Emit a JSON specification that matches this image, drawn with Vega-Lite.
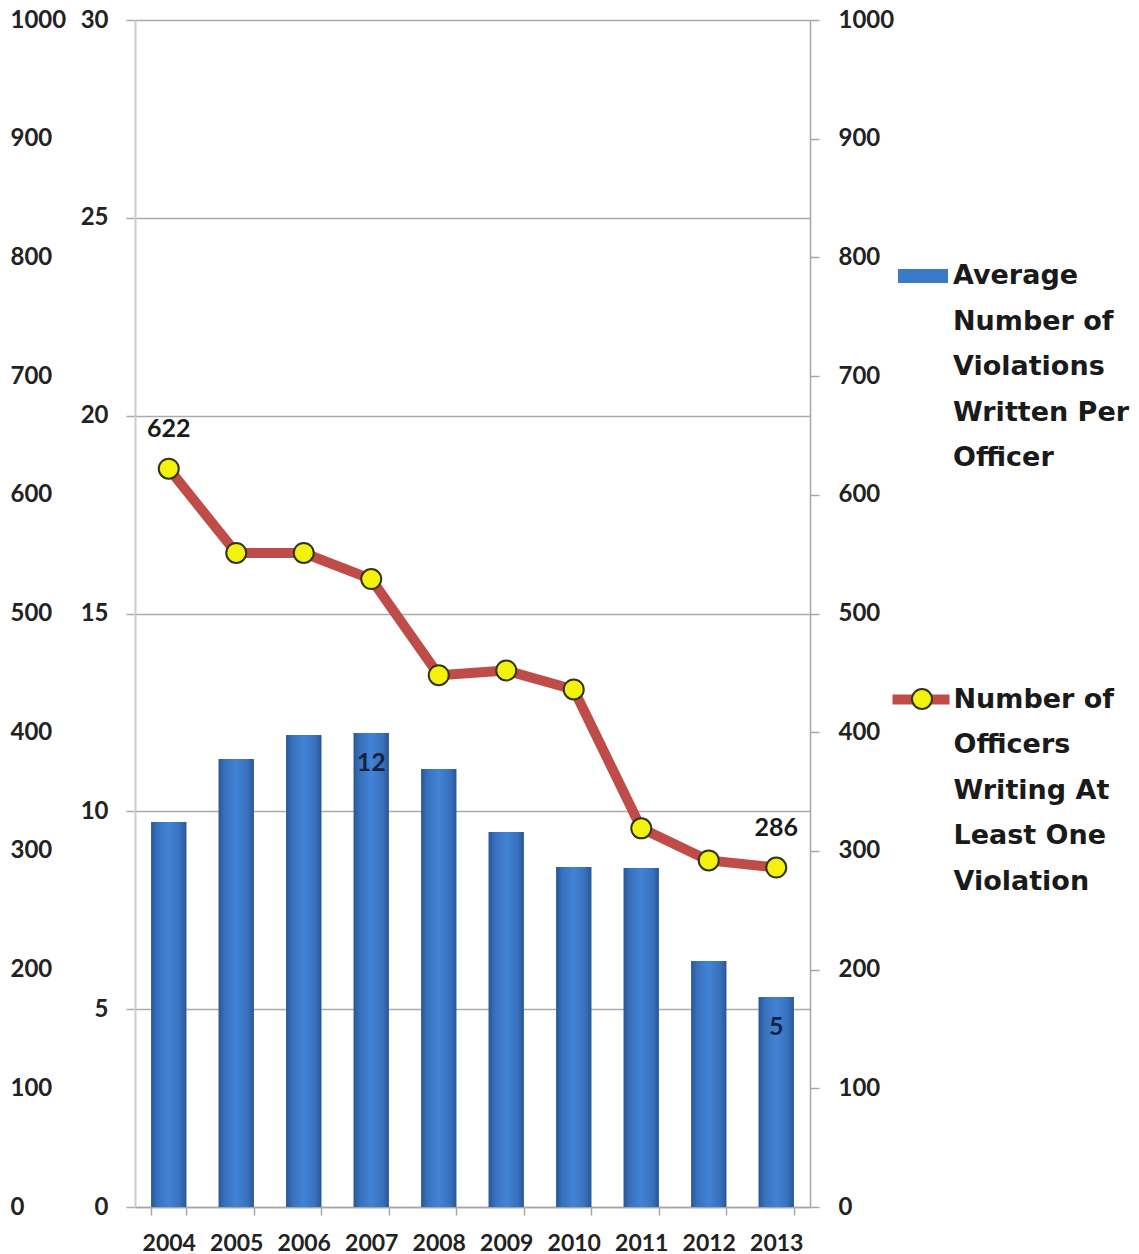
{
  "$schema": "https://vega.github.io/schema/vega-lite/v6.json",
  "width": 675,
  "height": 1187,
  "autosize": {"type": "none"},
  "padding": {"left": 135, "top": 20, "right": 329, "bottom": 47},
  "background": "white",
  "data": {
    "values": [
      {"year": "2004", "avg": 9.73, "officers": 622, "barLabel": "", "lineLabel": "622"},
      {"year": "2005", "avg": 11.32, "officers": 551, "barLabel": "", "lineLabel": ""},
      {"year": "2006", "avg": 11.93, "officers": 551, "barLabel": "", "lineLabel": ""},
      {"year": "2007", "avg": 11.98, "officers": 529, "barLabel": "12", "lineLabel": ""},
      {"year": "2008", "avg": 11.07, "officers": 448, "barLabel": "", "lineLabel": ""},
      {"year": "2009", "avg": 9.48, "officers": 452, "barLabel": "", "lineLabel": ""},
      {"year": "2010", "avg": 8.59, "officers": 436, "barLabel": "", "lineLabel": ""},
      {"year": "2011", "avg": 8.57, "officers": 319, "barLabel": "", "lineLabel": ""},
      {"year": "2012", "avg": 6.22, "officers": 292, "barLabel": "", "lineLabel": ""},
      {"year": "2013", "avg": 5.31, "officers": 286, "barLabel": "5", "lineLabel": "286"}
    ]
  },
  "resolve": {
    "scale": {"y": "independent", "fill": "independent", "color": "independent", "stroke": "independent"},
    "axis": {"y": "independent"},
    "legend": {"fill": "independent", "color": "independent", "stroke": "independent"}
  },
  "layer": [
    {
      "layer": [
        {
          "mark": {"type": "bar"},
          "encoding": {
            "x": {"field": "year", "type": "ordinal", "scale": {"paddingInner": 0.48, "paddingOuter": 0.24},
              "axis": {"title": null, "labelAngle": 0, "tickBand": "extent", "tickSize": 8, "domainColor": "#a6a6a6", "domainWidth": 1.5, "tickColor": "#a6a6a6", "tickWidth": 1.5, "labelFont": "Lato", "labelFontWeight": "bold", "labelFontSize": 23, "labelColor": "#222222", "labelPadding": 17, "labelOverlap": false}},
            "y": {"field": "avg", "type": "quantitative", "scale": {"domain": [0, 30], "nice": false, "zero": true},
              "axis": {"orient": "left", "title": null, "values": [0, 5, 10, 15, 20, 25, 30], "grid": true, "gridColor": "#aaaaaa", "gridWidth": 1.5, "domainColor": "#cccccc", "domainWidth": 2, "tickColor": "#aaaaaa", "tickWidth": 1.5, "tickSize": 9, "labelPadding": 18, "labelFont": "Lato", "labelFontWeight": "bold", "labelFontSize": 24, "labelColor": "#222222", "labelOverlap": false}},
            "color": {"datum": "Average Number of Violations Written Per Officer", "type": "nominal", "scale": {"range": ["#3a78c8"]},
              "legend": {"orient": "none", "legendX": 763, "legendY": 231, "title": null, "padding": 0, "symbolType": "M-1,-0.28H1V0.28H-1Z", "symbolSize": 2500, "symbolStrokeWidth": 0, "labelFont": "DejaVu Sans", "labelFontWeight": "bold", "labelFontSize": 27, "labelColor": "#1a1a1a", "labelOffset": 5, "labelLimit": 400, "labelBaseline": "middle", "labelExpr": "['Average','Number of','Violations','Written Per','Officer']"}}
          }
        },
        {
          "mark": {"type": "bar", "fill": {"gradient": "linear", "x1": 0, "y1": 0, "x2": 1, "y2": 0, "stops": [{"offset": 0, "color": "#2a5797"}, {"offset": 0.18, "color": "#3871bd"}, {"offset": 0.5, "color": "#4283d6"}, {"offset": 0.82, "color": "#3871bd"}, {"offset": 1, "color": "#2a5797"}]}},
          "encoding": {
            "x": {"field": "year", "type": "ordinal", "scale": {"paddingInner": 0.48, "paddingOuter": 0.24},
              "axis": {"title": null, "labelAngle": 0, "tickBand": "extent", "tickSize": 8, "domainColor": "#a6a6a6", "domainWidth": 1.5, "tickColor": "#a6a6a6", "tickWidth": 1.5, "labelFont": "Lato", "labelFontWeight": "bold", "labelFontSize": 23, "labelColor": "#222222", "labelPadding": 17, "labelOverlap": false}},
            "y": {"field": "avg", "type": "quantitative"}
          }
        },
        {
          "mark": {"type": "text", "font": "Lato", "fontWeight": "bold", "fontSize": 25, "color": "#14233f", "baseline": "middle", "dy": 30},
          "encoding": {
            "x": {"field": "year", "type": "ordinal", "scale": {"paddingInner": 0.48, "paddingOuter": 0.24},
              "axis": {"title": null, "labelAngle": 0, "tickBand": "extent", "tickSize": 8, "domainColor": "#a6a6a6", "domainWidth": 1.5, "tickColor": "#a6a6a6", "tickWidth": 1.5, "labelFont": "Lato", "labelFontWeight": "bold", "labelFontSize": 23, "labelColor": "#222222", "labelPadding": 17, "labelOverlap": false}},
            "y": {"field": "avg", "type": "quantitative"},
            "text": {"field": "barLabel"}
          }
        }
      ]
    },
    {
      "layer": [
        {
          "mark": {"type": "line", "strokeWidth": 10, "strokeJoin": "round", "strokeCap": "round"},
          "encoding": {
            "x": {"field": "year", "type": "ordinal", "scale": {"paddingInner": 0.48, "paddingOuter": 0.24},
              "axis": {"title": null, "labelAngle": 0, "tickBand": "extent", "tickSize": 8, "domainColor": "#a6a6a6", "domainWidth": 1.5, "tickColor": "#a6a6a6", "tickWidth": 1.5, "labelFont": "Lato", "labelFontWeight": "bold", "labelFontSize": 23, "labelColor": "#222222", "labelPadding": 17, "labelOverlap": false}},
            "y": {"field": "officers", "type": "quantitative", "scale": {"domain": [0, 1000], "nice": false},
              "axis": {"orient": "right", "title": null, "format": "d", "values": [0, 100, 200, 300, 400, 500, 600, 700, 800, 900, 1000], "grid": false, "domainColor": "#a6a6a6", "domainWidth": 1.5, "tickColor": "#a6a6a6", "tickWidth": 1.5, "tickSize": 9, "labelPadding": 19, "labelFont": "Lato", "labelFontWeight": "bold", "labelFontSize": 24, "labelColor": "#222222", "labelOverlap": false}},
            "stroke": {"datum": "Number of Officers Writing At Least One Violation", "type": "nominal", "scale": {"range": ["#bf4c49"]},
              "legend": {"orient": "none", "legendX": 752.5, "legendY": 646, "title": null, "padding": 0, "symbolType": "stroke", "symbolSize": 3249, "symbolStrokeWidth": 10, "labelFont": "DejaVu Sans", "labelFontWeight": "bold", "labelFontSize": 27, "labelColor": "#1a1a1a", "labelOffset": -1, "labelLimit": 400, "labelBaseline": "middle", "labelExpr": "['Number of','Officers','Writing At','Least One','Violation']"}}
          }
        },
        {
          "mark": {"type": "circle", "size": 400, "opacity": 1, "stroke": "#33331a", "strokeWidth": 2},
          "encoding": {
            "x": {"field": "year", "type": "ordinal", "scale": {"paddingInner": 0.48, "paddingOuter": 0.24},
              "axis": {"title": null, "labelAngle": 0, "tickBand": "extent", "tickSize": 8, "domainColor": "#a6a6a6", "domainWidth": 1.5, "tickColor": "#a6a6a6", "tickWidth": 1.5, "labelFont": "Lato", "labelFontWeight": "bold", "labelFontSize": 23, "labelColor": "#222222", "labelPadding": 17, "labelOverlap": false}},
            "y": {"field": "officers", "type": "quantitative"},
            "fill": {"datum": "marker", "type": "nominal", "scale": {"range": ["#f2f20c"]},
              "legend": {"orient": "none", "legendX": 776, "legendY": 668, "title": null, "padding": 0, "symbolType": "circle", "symbolSize": 400, "symbolStrokeColor": "#33331a", "symbolStrokeWidth": 2, "symbolOpacity": 1, "labelExpr": "''"}}
          }
        },
        {
          "mark": {"type": "text", "font": "Lato", "fontWeight": "bold", "fontSize": 25, "color": "#1a1a1a", "baseline": "middle", "dy": -40},
          "encoding": {
            "x": {"field": "year", "type": "ordinal", "scale": {"paddingInner": 0.48, "paddingOuter": 0.24},
              "axis": {"title": null, "labelAngle": 0, "tickBand": "extent", "tickSize": 8, "domainColor": "#a6a6a6", "domainWidth": 1.5, "tickColor": "#a6a6a6", "tickWidth": 1.5, "labelFont": "Lato", "labelFontWeight": "bold", "labelFontSize": 23, "labelColor": "#222222", "labelPadding": 17, "labelOverlap": false}},
            "y": {"field": "officers", "type": "quantitative"},
            "text": {"field": "lineLabel"}
          }
        }
      ]
    },
    {
      "mark": {"type": "point", "opacity": 0},
      "encoding": {
        "x": {"field": "year", "type": "ordinal", "scale": {"paddingInner": 0.48, "paddingOuter": 0.24},
          "axis": {"title": null, "labelAngle": 0, "tickBand": "extent", "tickSize": 8, "domainColor": "#a6a6a6", "domainWidth": 1.5, "tickColor": "#a6a6a6", "tickWidth": 1.5, "labelFont": "Lato", "labelFontWeight": "bold", "labelFontSize": 23, "labelColor": "#222222", "labelPadding": 17, "labelOverlap": false}},
        "y": {"field": "officers", "type": "quantitative", "scale": {"domain": [0, 1000], "nice": false},
          "axis": {"orient": "left", "title": null, "format": "d", "values": [0, 100, 200, 300, 400, 500, 600, 700, 800, 900, 1000], "grid": false, "domain": false, "ticks": false, "tickSize": 0, "labelPadding": 125, "labelAlign": "left", "labelFont": "Lato", "labelFontWeight": "bold", "labelFontSize": 24, "labelColor": "#222222", "labelOverlap": false}}
      }
    }
  ],
  "config": {
    "view": {"stroke": null},
    "font": "Lato",
    "style": {"guide-label": {"lineHeight": 45.5}}
  }
}
